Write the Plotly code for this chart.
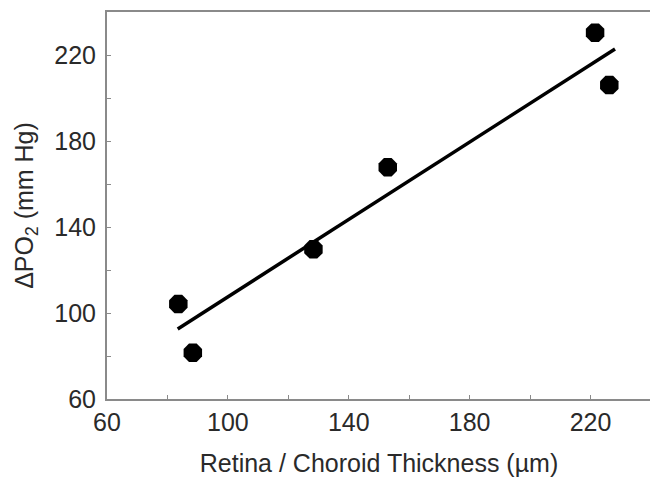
import plotly.graph_objects as go

# Data
thickness_um = [83.6, 88.4, 128.3, 152.9, 221.5, 226.2]
delta_po2 = [104.2, 81.5, 129.6, 167.8, 230.4, 206.0]
# Regression line end points (as drawn)
fit_x = [83.4, 228.1]
fit_y = [92.6, 222.8]

axis_color = "#8a8a8a"
text_color = "#2a2a2a"
font_family = "Liberation Sans, Arial, sans-serif"

fig = go.Figure()
fig.add_trace(go.Scatter(x=fit_x, y=fit_y, mode="lines",
                         line=dict(color="black", width=3.5), showlegend=False))
fig.add_trace(go.Scatter(x=thickness_um, y=delta_po2, mode="markers",
                         marker=dict(symbol="octagon", size=20, color="black",
                                     line=dict(width=0)), showlegend=False))

common = dict(showgrid=False, zeroline=False, showline=True, linecolor=axis_color,
              linewidth=2, mirror=True, ticks="inside", ticklen=4, tickwidth=1,
              tickcolor=axis_color, tick0=60, dtick=40, automargin=False,
              minor=dict(ticks="inside", dtick=20, ticklen=4, tickcolor=axis_color),
              tickfont=dict(family=font_family, size=25, color=text_color))

fig.update_xaxes(range=[60, 240], **common, ticklabelstandoff=0,
                 title=dict(text="Retina / Choroid Thickness (\u00b5m)",
                            font=dict(family=font_family, size=25, color=text_color),
                            standoff=19))
fig.update_yaxes(range=[60, 240], **common, ticklabelstandoff=4,
                 title=dict(text="\u0394PO<sub>2</sub> (mm Hg)",
                            font=dict(family=font_family, size=25, color=text_color),
                            standoff=14))

# page body adds an 8px offset; margins compensate for it
fig.update_layout(width=650, height=469, plot_bgcolor="white", paper_bgcolor="white",
                  margin=dict(l=99, r=7, t=4, b=78))

fig.write_html("out.html")
